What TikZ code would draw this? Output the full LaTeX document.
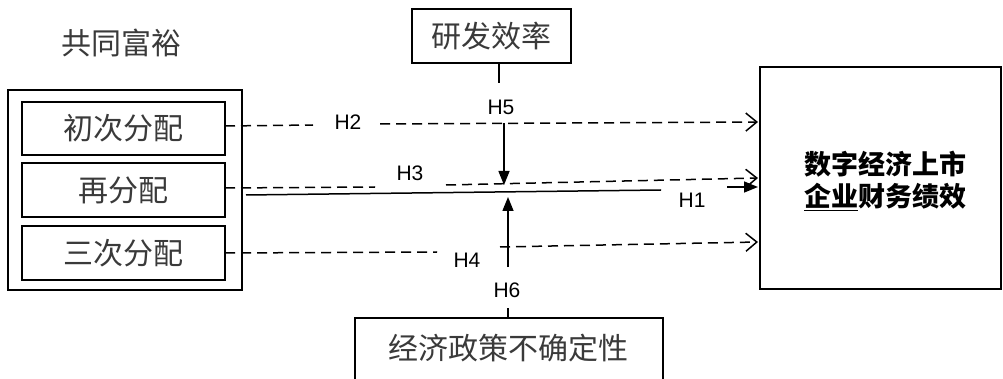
\documentclass[tikz,border=0pt]{standalone}
\usepackage{fontspec}
\setmainfont{Liberation Sans}
\newfontfamily\cjk{Noto Sans CJK SC}
\usetikzlibrary{arrows.meta}
\definecolor{txtgray}{HTML}{3A3A3A}
\tikzset{
  box/.style={draw, line width=1.4pt, inner sep=0pt},
  cjktext/.style={font=\cjk\fontsize{30}{34}\selectfont, text=txtgray},
  hlabel/.style={font=\fontsize{21}{24}\selectfont, inner sep=1pt},
  dline/.style={line width=1.5pt, dash pattern=on 10pt off 6pt},
  oarrow/.style={-{Straight Barb[length=11pt,width=18pt,line width=1.5pt]}},
  sline/.style={line width=1.5pt},
  farrow/.style={-{Triangle[length=14pt,width=11pt]}, line width=1.5pt},
}
\begin{document}
\begin{tikzpicture}[x=1pt,y=-1pt]
\clip (0,0) rectangle (1003,379);
\fill[white] (0,0) rectangle (1003,379);
% title
\node[cjktext] (title) at (121,43) {共同富裕};
% left group
\node[box, minimum width=234pt, minimum height=200pt] (outer) at (125,190) {};
\node[box, cjktext, minimum width=203pt, minimum height=53pt] (b1) at (123.5,128.5) {初次分配};
\node[box, cjktext, minimum width=203pt, minimum height=54pt] (b2) at (123.5,190) {再分配};
\node[box, cjktext, minimum width=203pt, minimum height=54pt] (b3) at (123.5,253) {三次分配};
% moderators
\node[box, cjktext, minimum width=159pt, minimum height=54pt] (rd) at (491.5,36) {研发效率};
\node[box, minimum width=308pt, minimum height=74pt] (epu) at (509,355) {};
\node[cjktext] (epulabel) at (508,348) {经济政策不确定性};
% outcome
\node[box, minimum width=241pt, minimum height=222pt] (perf) at (880.5,178) {};
\node[font=\cjk\bfseries\fontsize{27}{32}\selectfont, align=center] (perflabel) at (885,181) {数字经济上市\\\underline{企业}财务绩效};
% labels
\node[hlabel] (h2) at (348,122) {H2};
\node[hlabel] (h3) at (410,173) {H3};
\node[hlabel] (h1) at (692,200) {H1};
\node[hlabel] (h4) at (467,260) {H4};
\node[hlabel] (h5) at (501,107) {H5};
\node[hlabel] (h6) at (507,290) {H6};
% coordinates
\coordinate (b1e) at (225,126);
\coordinate (h2l) at (313,125);
\coordinate (h2r) at (380,124);
\coordinate (p2) at (758,122);
\coordinate (b2e) at (225,188);
\coordinate (h3l) at (375,187);
\coordinate (h3r) at (446,185);
\coordinate (p3) at (758,178);
\coordinate (s1) at (246,195);
\coordinate (h1l) at (661,190);
\coordinate (h1r) at (727,187);
\coordinate (p1) at (758,187);
\coordinate (b3e) at (225,253);
\coordinate (h4l) at (437,252);
\coordinate (h4r) at (500,247);
\coordinate (p4) at (758,242);
\coordinate (rdb) at (499,63);
\coordinate (h5t) at (499,83);
\coordinate (h5a) at (504,123);
\coordinate (h5e) at (504,185);
\coordinate (ept) at (508,318);
\coordinate (h6b) at (508,308);
\coordinate (h6a) at (508,267);
\coordinate (h6e) at (508,197);
% H2
\draw[dline] (b1e) -- (h2l);
\draw[dline, oarrow] (h2r) -- (p2);
% H3
\draw[dline] (b2e) -- (h3l);
\draw[dline, oarrow] (h3r) -- (p3);
% H1
\draw[sline] (s1) -- (h1l);
\draw[farrow] (h1r) -- (p1);
% H4
\draw[dline] (b3e) -- (h4l);
\draw[dline, oarrow] (h4r) -- (p4);
% H5
\draw[sline] (rdb) -- (h5t);
\draw[farrow] (h5a) -- (h5e);
% H6
\draw[sline] (ept) -- (h6b);
\draw[farrow] (h6a) -- (h6e);
\end{tikzpicture}
\end{document}
